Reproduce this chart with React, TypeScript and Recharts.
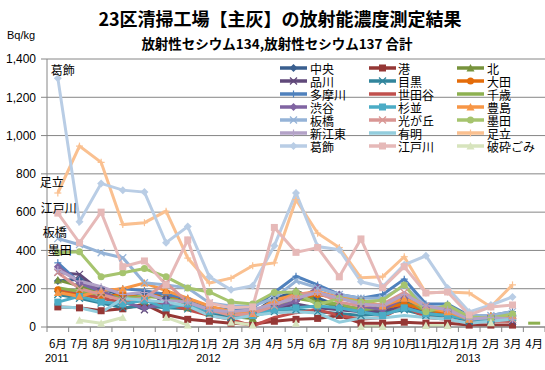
import React from "react";
import { LineChart, Line, XAxis, YAxis, CartesianGrid, LabelList } from "recharts";

const PERIODS = [
  "2011-06", "2011-07", "2011-08", "2011-09", "2011-10", "2011-11", "2011-12",
  "2012-01", "2012-02", "2012-03", "2012-04", "2012-05", "2012-06", "2012-07",
  "2012-08", "2012-09", "2012-10", "2012-11", "2012-12", "2013-01", "2013-02",
  "2013-03", "2013-04",
];
const MONTHS = [
  "6月", "7月", "8月", "9月", "10月", "11月", "12月", "1月", "2月", "3月", "4月", "5月",
  "6月", "7月", "8月", "9月", "10月", "11月", "12月", "1月", "2月", "3月", "4月",
];
const YEARS: Record<number, string> = { 0: "2011", 7: "2012", 19: "2013" };
const Y_TICKS = [0, 200, 400, 600, 800, 1000, 1200, 1400];

// Bq/kg
const chuo = [240, 250, 200, 165, 180, 150, 125, 95, 65, 70, 150, 185, 150, 110, 95, 100, 140, 90, 80, 40, 40, 60, null];
const minato = [105, 100, 85, 95, 120, 65, 40, 30, 20, 15, 30, 40, 45, 60, 20, 20, 25, 20, 20, 10, 10, 10, null];
const kita = [245, 215, 180, 150, 135, 125, 100, 75, 55, 45, 110, 190, 135, 105, 95, 90, 130, 80, 70, 40, 40, 50, null];
const shinagawa = [285, 275, 185, 140, 90, 165, 130, 90, 50, 60, 95, 120, 100, 90, 80, 80, 110, 70, 70, 30, 40, 30, null];
const meguro = [170, 150, 125, 100, 110, 100, 95, 70, 50, 60, 80, 90, 80, 70, 60, 70, 90, 60, 60, 30, 30, 40, null];
const ota = [195, 170, 150, 175, 150, 180, 110, 100, 70, 80, 130, 150, 170, 150, 140, 100, 120, 90, 70, 40, 50, 50, null];
const tamagawa = [335, 230, 185, 200, 190, 170, 150, 100, 90, 100, 180, 265, 220, 170, 150, 170, 250, 120, 120, 60, 60, 80, null];
const setagaya = [200, 180, 150, 130, 140, 120, 90, 60, 40, 5, 50, 75, 90, 60, 40, 50, 110, 50, 40, 20, 30, 30, null];
const chitose = [205, 185, 170, 150, 160, 150, 130, 90, 80, 70, 110, 150, 130, 120, 90, 100, 160, 80, 100, 50, 40, null, 20];
const shibuya = [315, 230, 190, 130, 100, 120, 110, 80, 70, 60, 100, 135, 205, 170, 110, 90, 150, 100, 90, 40, 50, 40, null];
const suginami = [130, 160, 130, 120, 140, 100, 120, 80, 70, 60, 90, 100, 110, 100, 80, 60, 100, 70, 60, 40, 40, 50, null];
const toshima = [180, 160, 190, 200, 230, 190, 150, 110, 80, 70, 140, 170, 185, 155, 140, 110, 150, 100, 80, 40, 60, 60, null];
const itabashi = [462, 430, 388, 362, 231, 220, 204, 126, 110, 110, 150, 240, 205, 170, 150, 150, 215, 110, 100, 60, 60, 80, null];
const hikarigaoka = [285, 200, 170, 140, 150, 230, 130, 90, 60, 70, 110, 170, 180, 130, 110, 120, 180, 110, 90, 50, 50, 40, null];
const sumida = [388, 393, 262, 283, 305, 262, 204, 183, 130, 120, 180, 183, 115, 150, 130, 140, 220, 80, 115, 52, 47, 68, null];
const shinkoto = [300, 240, 210, 170, 180, 140, 130, 90, 80, 90, 120, 150, 180, 150, 120, 110, 170, 110, 90, 40, 50, 40, null];
const ariake = [105, 100, 75, 150, 140, 130, 110, 60, 40, 60, 75, 80, 73, 25, 47, 47, 60, 50, 40, 20, 30, 40, null];
const adachi = [700, 945, 860, 535, 545, 605, 360, 230, 255, 320, 335, 665, 490, 415, 257, 262, 367, 178, 183, 178, 105, 220, null];
const katsushika = [1300, 550, 750, 715, 705, 440, 525, 262, 194, 215, 425, 700, 420, 404, 236, 210, 325, 372, 204, 79, 115, 157, null];
const edogawa = [595, 440, 600, 315, 345, 220, 455, 125, 100, 105, 520, 390, 415, 262, 460, 205, 315, 178, 183, 63, 105, 115, null];
const hasai = [null, 35, 20, 50, null, 50, 10, null, 25, 10, null, 20, null, null, 3, 3, null, 8, 8, null, 22, null, null];

type Marker = "diamond" | "square" | "triangle" | "circle" | "x" | "plus" | "none";
type Series = { key: string; name: string; values: (number | null)[]; color: string; marker: Marker; label?: [number, number] };

// legend order (row-major, 3 columns)
const SERIES: Series[] = [
  { key: "s0", name: "中央", values: chuo, color: "#3A5F8F", marker: "diamond" },
  { key: "s1", name: "港", values: minato, color: "#953735", marker: "square" },
  { key: "s2", name: "北", values: kita, color: "#77933C", marker: "triangle" },
  { key: "s3", name: "品川", values: shinagawa, color: "#60497A", marker: "x" },
  { key: "s4", name: "目黒", values: meguro, color: "#31859C", marker: "x" },
  { key: "s5", name: "大田", values: ota, color: "#E46C0A", marker: "circle" },
  { key: "s6", name: "多摩川", values: tamagawa, color: "#4F81BD", marker: "plus" },
  { key: "s7", name: "世田谷", values: setagaya, color: "#C0504D", marker: "none" },
  { key: "s8", name: "千歳", values: chitose, color: "#8DB050", marker: "none" },
  { key: "s9", name: "渋谷", values: shibuya, color: "#8064A2", marker: "diamond" },
  { key: "s10", name: "杉並", values: suginami, color: "#4BACC6", marker: "square" },
  { key: "s11", name: "豊島", values: toshima, color: "#F79646", marker: "triangle" },
  { key: "s12", name: "板橋", values: itabashi, color: "#95B3D7", marker: "x", label: [-3, -7] },
  { key: "s13", name: "光が丘", values: hikarigaoka, color: "#D99694", marker: "x" },
  { key: "s14", name: "墨田", values: sumida, color: "#A6C46E", marker: "circle", label: [2, -3] },
  { key: "s15", name: "新江東", values: shinkoto, color: "#B3A2C7", marker: "plus" },
  { key: "s16", name: "有明", values: ariake, color: "#93CDDD", marker: "none" },
  { key: "s17", name: "足立", values: adachi, color: "#FAC090", marker: "plus", label: [-6, -12] },
  { key: "s18", name: "葛飾", values: katsushika, color: "#B9CDE5", marker: "diamond", label: [5, -9] },
  { key: "s19", name: "江戸川", values: edogawa, color: "#E6B9B8", marker: "square", label: [1, -6] },
  { key: "s20", name: "破砕ごみ", values: hasai, color: "#D7E4BD", marker: "triangle" },
];

const data = PERIODS.map((p, i) => {
  const row: Record<string, string | number | null> = { period: p };
  SERIES.forEach((s) => {
    row[s.key] = s.values[i];
  });
  return row;
});

const FONT = '"Noto Sans CJK JP", "Noto Sans", sans-serif';
const GRID = "#868686";
const BAND = (545 - 47) / PERIODS.length;

function drawMarker(m: Marker, cx: number, cy: number, color: string, r = 3.5) {
  switch (m) {
    case "diamond":
      return <polygon points={`${cx},${cy - r - 0.5} ${cx + r + 0.5},${cy} ${cx},${cy + r + 0.5} ${cx - r - 0.5},${cy}`} fill={color} />;
    case "square":
      return <rect x={cx - r} y={cy - r} width={r * 2} height={r * 2} fill={color} />;
    case "triangle":
      return <polygon points={`${cx},${cy - r - 0.5} ${cx + r + 0.5},${cy + r} ${cx - r - 0.5},${cy + r}`} fill={color} />;
    case "circle":
      return <circle cx={cx} cy={cy} r={r} fill={color} />;
    case "x":
      return (
        <g stroke={color} strokeWidth={1.2}>
          <line x1={cx - r} y1={cy - r} x2={cx + r} y2={cy + r} />
          <line x1={cx - r} y1={cy + r} x2={cx + r} y2={cy - r} />
        </g>
      );
    case "plus":
      return (
        <g stroke={color} strokeWidth={1.2}>
          <line x1={cx} y1={cy - r} x2={cx} y2={cy + r} />
          <line x1={cx - r} y1={cy} x2={cx + r} y2={cy} />
        </g>
      );
    default:
      return null;
  }
}

const makeDot = (s: Series) => (props: any) => {
  const { cx, cy, index } = props;
  const k = `${s.key}-${index}`;
  if (cx == null || cy == null || s.values[index] == null) return <g key={k} />;
  if (s.marker === "none") {
    const prev = index > 0 ? s.values[index - 1] : null;
    const next = index < s.values.length - 1 ? s.values[index + 1] : null;
    if (prev == null && next == null) {
      return <line key={k} x1={cx - 6} x2={cx + 6} y1={cy} y2={cy} stroke={s.color} strokeWidth={3} />;
    }
    return <g key={k} />;
  }
  return <g key={k}>{drawMarker(s.marker, cx, cy, s.color)}</g>;
};

const makeLabel = (s: Series) => (props: any) => {
  const { x, y, index } = props;
  if (index !== 0 || !s.label || x == null || y == null) return null;
  return (
    <text x={x + s.label[0]} y={y + s.label[1]} textAnchor="middle" dominantBaseline="central" fontSize={12} fontFamily={FONT} fill="#000">
      {s.name}
    </text>
  );
};

const MonthTick = (props: any) => {
  const { x, y, payload } = props;
  const i = payload.index;
  return (
    <g>
      <line x1={x - BAND / 2} x2={x - BAND / 2} y1={y} y2={y + 5} stroke={GRID} />
      {i === PERIODS.length - 1 && <line x1={x + BAND / 2} x2={x + BAND / 2} y1={y} y2={y + 5} stroke={GRID} />}
      <text x={x} y={y + 16} textAnchor="middle" dominantBaseline="central" fontSize={11.5} fontFamily={FONT} fill="#000">
        {MONTHS[i]}
      </text>
      {YEARS[i] && (
        <text x={x - 1} y={y + 31} textAnchor="middle" dominantBaseline="central" fontSize={11} fontFamily="'Liberation Sans', sans-serif" fill="#000">
          {YEARS[i]}
        </text>
      )}
    </g>
  );
};

function LegendBox() {
  const colX = [280, 369, 457];
  const textX = [310, 398, 487];
  return (
    <svg width={545} height={370} style={{ position: "absolute", left: 0, top: 0, pointerEvents: "none" }}>
      {SERIES.map((s, i) => {
        const col = i % 3;
        const row = Math.floor(i / 3);
        const cy = 68 + row * 13;
        const x0 = colX[col];
        return (
          <g key={s.key}>
            <line x1={x0} x2={x0 + 27} y1={cy} y2={cy} stroke={s.color} strokeWidth={3.5} />
            {drawMarker(s.marker, x0 + 13.5, cy, s.color)}
            <text x={textX[col]} y={cy} dominantBaseline="central" fontSize={12} fontFamily={FONT} fill="#000">
              {s.name}
            </text>
          </g>
        );
      })}
    </svg>
  );
}

export default function App() {
  return (
    <div style={{ position: "absolute", left: 0, top: 0, width: 545, height: 370, background: "#fff", fontFamily: FONT }}>
      <svg width={545} height={60} style={{ position: "absolute", left: 0, top: 0 }}>
        <text x={280} y={18} textAnchor="middle" dominantBaseline="central" fontSize={18} fontWeight="bold" fontFamily={FONT} fill="#000">
          23区清掃工場【主灰】の放射能濃度測定結果
        </text>
        <text x={277} y={43} textAnchor="middle" dominantBaseline="central" fontSize={13.5} fontWeight="bold" fontFamily={FONT} fill="#000">
          放射性セシウム134,放射性セシウム137 合計
        </text>
        <text x={7} y={35} dominantBaseline="central" fontSize={11} fontFamily="'Liberation Sans', sans-serif" fill="#000">
          Bq/kg
        </text>
      </svg>
      <LineChart width={545} height={370} data={data} margin={{ top: 59, right: 0, bottom: 0, left: 0 }}>
        <CartesianGrid vertical={false} stroke={GRID} />
        <XAxis
          dataKey="period"
          interval={0}
          tickLine={false}
          tickSize={0}
          tickMargin={0}
          padding={{ left: BAND / 2, right: BAND / 2 }}
          axisLine={{ stroke: GRID }}
          tick={<MonthTick />}
          height={43}
        />
        <YAxis
          domain={[0, 1400]}
          ticks={Y_TICKS}
          interval={0}
          width={47}
          tickSize={6}
          tickMargin={5}
          tickLine={{ stroke: GRID }}
          axisLine={{ stroke: GRID }}
          tickFormatter={(v: number) => v.toLocaleString("en-US")}
          tick={{ fontSize: 12, fill: "#000", fontFamily: "'Liberation Sans', sans-serif" }}
        />
        {SERIES.map((s) => (
          <Line
            key={s.key}
            dataKey={s.key}
            name={s.name}
            type="linear"
            stroke={s.color}
            strokeWidth={3}
            dot={makeDot(s)}
            activeDot={false}
            connectNulls={false}
            isAnimationActive={false}
          >
            {s.label && <LabelList dataKey={s.key} content={makeLabel(s)} />}
          </Line>
        ))}
      </LineChart>
      <LegendBox />
    </div>
  );
}
